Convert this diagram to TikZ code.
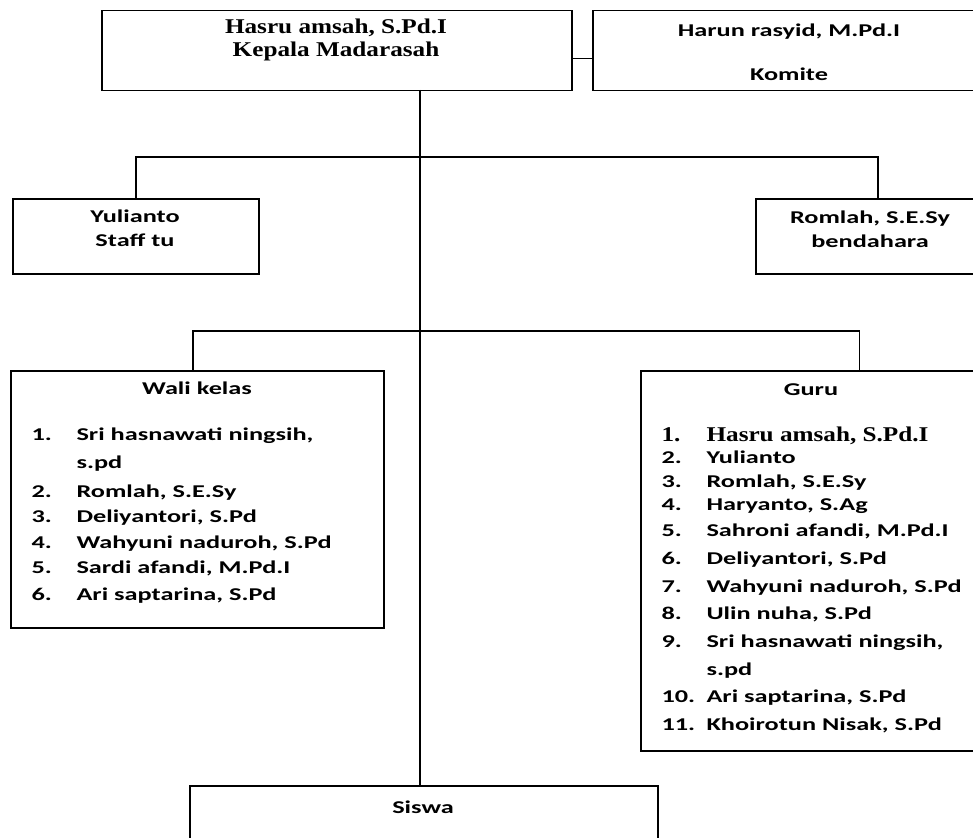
\documentclass[tikz,border=0pt]{standalone}
\usepackage{fontspec}
\setmainfont{Carlito}[FakeStretch=1.46]
\newfontfamily\serifbold{Liberation Serif}[FakeStretch=1.2]
\usepackage{tikz}

\begin{document}
\begin{tikzpicture}[
            x=1pt, y=-1pt,
            box/.style={draw, line width=1.5pt, anchor=north west, inner sep=0pt},
            link/.style={line width=1.5pt},
            txt/.style={anchor=base, font=\fontsize{18}{22}\selectfont\bfseries},
            tms/.style={anchor=base, font=\fontsize{21}{24}\selectfont\serifbold\bfseries},
            item/.style={anchor=base west, font=\fontsize{18}{22}\selectfont\bfseries}
        ]
            \useasboundingbox (0,0) rectangle (973,837);
            \clip (0,0) rectangle (973,837);

            \node[box, minimum width=470pt, minimum height=80pt] (kepala) at (101,10) {};
            \node[box, minimum width=394pt, minimum height=80pt] (komite) at (592,10) {};
            \node[box, minimum width=246pt, minimum height=75pt] (staff) at (12,198) {};
            \node[box, minimum width=230pt, minimum height=75pt] (bendahara) at (755,198) {};
            \node[box, minimum width=373pt, minimum height=257pt] (walikelas) at (10,370) {};
            \node[box, minimum width=343pt, minimum height=380pt] (guru) at (640,370) {};
            \node[box, minimum width=468pt, minimum height=80pt] (siswa) at (189,785) {};

            \coordinate (top) at (420,90);
            \coordinate (j1) at (420,157);
            \coordinate (j2) at (420,331);

            \draw[link] ([yshift=-8pt]kepala.east) -- ([yshift=-8pt]komite.west);
            \draw[link] (top) -- (top |- siswa.north);
            \draw[link] (staff.north) |- (j1) -| ([xshift=7pt]bendahara.north);
            \draw[link] ([xshift=-4.5pt]walikelas.north) |- (j2) -| ([xshift=47pt]guru.north);

            \node[tms] (kepala1) at (336,34) {Hasru amsah, S.Pd.I};
            \node[tms] (kepala2) at (336,57) {Kepala Madarasah};
            \node[txt] (komite1) at (789,37) {Harun rasyid, M.Pd.I};
            \node[txt] (komite2) at (789,81) {Komite};
            \node[txt] (staff1) at (135,222) {Yulianto};
            \node[txt] (staff2) at (135,246) {Staff tu};
            \node[txt] (bendahara1) at (870,223) {Romlah, S.E.Sy};
            \node[txt] (bendahara2) at (870,247) {bendahara};
            \node[txt] (siswa1) at (423,813) {Siswa};

            \node[txt] (wali0) at (197,394) {Wali kelas};
            \foreach \i/\y/\name in {1/440/{Sri hasnawati ningsih,}, 2/497/{Romlah, S.E.Sy},
                3/522/{Deliyantori, S.Pd}, 4/548/{Wahyuni naduroh, S.Pd},
                5/573/{Sardi afandi, M.Pd.I}, 6/600/{Ari saptarina, S.Pd}} {
                \node[item] (wnum\i) at (28,\y) {\i.};
                \node[item] (wali\i) at (73,\y) {\name};
            }
            \node[item] (wali1b) at (73,468) {s.pd};

            \node[txt] (guru0) at (811,395) {Guru};
            \node[item, font=\fontsize{21}{24}\selectfont\serifbold\bfseries] (gnum1) at (658,441) {1.};
            \node[item, font=\fontsize{21}{24}\selectfont\serifbold\bfseries] (guru1) at (703,441) {Hasru amsah, S.Pd.I};
            \foreach \i/\y/\name in {2/463/{Yulianto}, 3/487/{Romlah, S.E.Sy}, 4/510/{Haryanto, S.Ag},
                5/536/{Sahroni afandi, M.Pd.I}, 6/564/{Deliyantori, S.Pd},
                7/592/{Wahyuni naduroh, S.Pd}, 8/619/{Ulin nuha, S.Pd},
                9/647/{Sri hasnawati ningsih,}, 10/702/{Ari saptarina, S.Pd},
                11/730/{Khoirotun Nisak, S.Pd}} {
                \node[item] (gnum\i) at (658,\y) {\i.};
                \node[item] (guru\i) at (703,\y) {\name};
            }
            \node[item] (guru9b) at (703,675) {s.pd};
        \end{tikzpicture}
\end{document}
